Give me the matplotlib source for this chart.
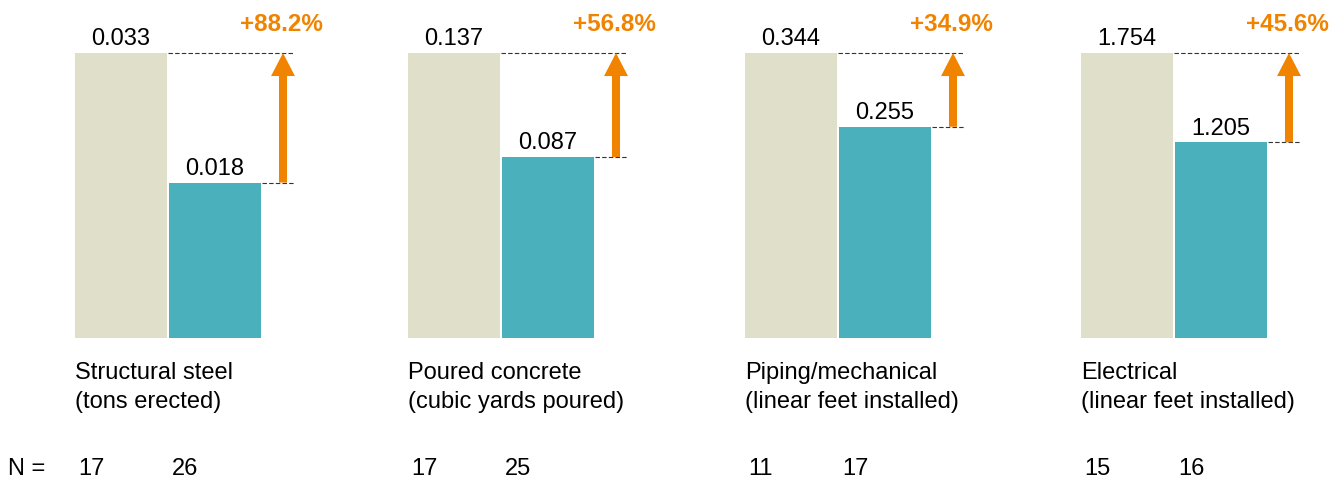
import matplotlib.pyplot as plt
from matplotlib.transforms import blended_transform_factory

plt.rcParams['font.family'] = ['Liberation Sans', 'DejaVu Sans']

categories = ['Structural steel\n(tons erected)',
              'Poured concrete\n(cubic yards poured)',
              'Piping/mechanical\n(linear feet installed)',
              'Electrical\n(linear feet installed)']
before = [0.033, 0.137, 0.344, 1.754]
after = [0.018, 0.087, 0.255, 1.205]
gains = ['+88.2%', '+56.8%', '+34.9%', '+45.6%']
n_before = [17, 17, 11, 15]
n_after = [26, 25, 17, 16]

BEIGE = '#e0dfca'
TEAL = '#4ab1bc'
ORANGE = '#f08300'
FS = 17

W, H = 1332, 478
fig = plt.figure(figsize=(W / 100, H / 100), dpi=100)

# panel layout in pixels
lefts = [75, 408, 745, 1081]
base = 338      # bar baseline
full = 285      # height of the reference bar

for i in range(4):
    x0 = lefts[i]
    ax = fig.add_axes([x0 / W, (H - base) / H, 260 / W, base / H])
    ax.set_xlim(0, 260)
    ax.set_ylim(0, before[i] * base / full)
    ax.axis('off')

    b, a = before[i], after[i]
    ax.bar(0, b, width=92, align='edge', color=BEIGE)
    ax.bar(94, a, width=92, align='edge', color=TEAL)

    ax.hlines(b, 93, 219, colors='#333333', linestyles=(0, (4, 2)), lw=0.8)
    ax.hlines(a, 187, 219, colors='#333333', linestyles=(0, (4, 2)), lw=0.8)

    ax.annotate('', xy=(208, b), xytext=(208, a),
                arrowprops=dict(arrowstyle='simple,head_length=0.83,head_width=0.86,tail_width=0.29',
                                mutation_scale=20, color=ORANGE, shrinkA=0, shrinkB=0, lw=0))

    ax.annotate(f'{b:.3f}', xy=(46, b), xytext=(0, 5.5), textcoords='offset points',
                ha='center', va='baseline', fontsize=FS)
    ax.annotate(f'{a:.3f}', xy=(140, a), xytext=(0, 5.5), textcoords='offset points',
                ha='center', va='baseline', fontsize=FS)
    ax.annotate(gains[i], xy=(248, b), xytext=(0, 15.5), textcoords='offset points',
                ha='right', va='baseline', fontsize=FS + 0.5, fontweight='bold', color=ORANGE)

    tr = blended_transform_factory(ax.transData, fig.transFigure)
    ax.text(0, 1 - 362 / H, categories[i], transform=tr, ha='left', va='top',
            fontsize=FS, linespacing=1.43)
    ax.text(3, 1 - 469 / H, str(n_before[i]), transform=tr, ha='left', va='center', fontsize=FS)
    ax.text(97, 1 - 469 / H, str(n_after[i]), transform=tr, ha='left', va='center', fontsize=FS)

fig.text(8 / W, 1 - 469 / H, 'N =', ha='left', va='center', fontsize=FS)

fig.savefig('out.png', dpi=100)
